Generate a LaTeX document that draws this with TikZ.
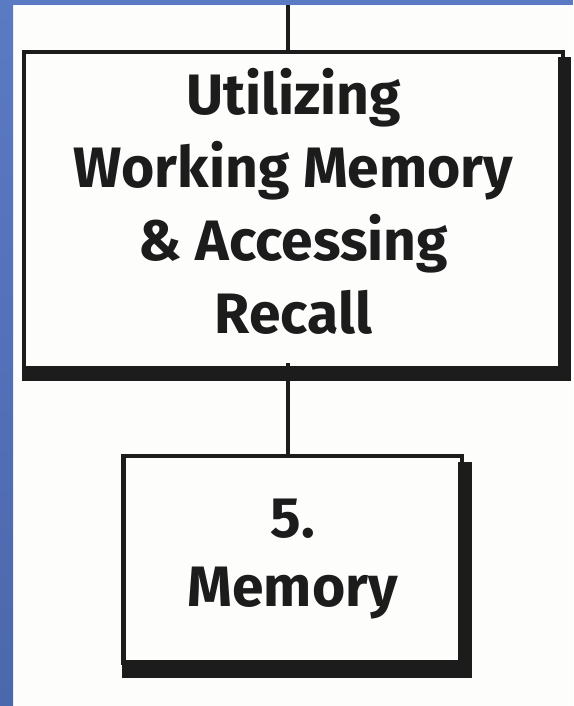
\documentclass[tikz,border=0pt]{standalone}
\usepackage{fontspec}
\setmainfont{Fira Sans}
\definecolor{inkc}{RGB}{28,28,28}
\definecolor{paper}{RGB}{253,253,252}
\definecolor{blueA}{RGB}{90,122,196}
\definecolor{blueB}{RGB}{76,104,172}
\begin{document}
\begin{tikzpicture}[x=1pt,y=-1pt,
  boxframe/.style={draw=inkc, line width=4.5pt, rectangle, inner sep=0pt,
    outer sep=0pt, align=center, text=inkc},
  bigfont/.style={font=\bfseries\fontsize{57}{73}\selectfont},
  smallfont/.style={font=\bfseries\fontsize{57}{69}\selectfont},
  shadowbar/.style={fill=inkc, draw=none},
  link/.style={draw=inkc, line width=3.5pt}]
\useasboundingbox (0,0) rectangle (573,706);
% paper and blue page edge
\fill[paper] (0,0) rectangle (573,706);
\shade[top color=blueA, bottom color=blueB] (0,0) rectangle (13,706);
\fill[blueA] (0,0) rectangle (573,5);

% upper box
\node[boxframe, bigfont, minimum width=539pt, minimum height=320pt] (big)
  at (293.5,212)
  {Utilizing\\Working Memory\\\& Accessing\\Recall\rule[-22pt]{0pt}{22pt}};
\fill[shadowbar] ([shift={(-5,5)}]big.north east) rectangle ([shift={(8,9)}]big.south east);
\fill[shadowbar] ([shift={(-2,-6)}]big.south west) rectangle ([shift={(8,9)}]big.south east);

% lower box
\node[boxframe, smallfont, minimum width=338.5pt, minimum height=207pt] (small)
  at (292.75,559.5) {5.\\Memory};
\fill[shadowbar] ([shift={(-4,6)}]small.north east) rectangle ([shift={(10,15)}]small.south east);
\fill[shadowbar] ([shift={(-1.5,-3)}]small.south west) rectangle ([shift={(10,15)}]small.south east);

% connectors
\coordinate (stem) at (288,5);
\draw[link] (stem) -- (stem |- big.north);
\draw[link] ([yshift=9pt]stem |- big.south) -- (stem |- small.north);
\end{tikzpicture}
\end{document}
